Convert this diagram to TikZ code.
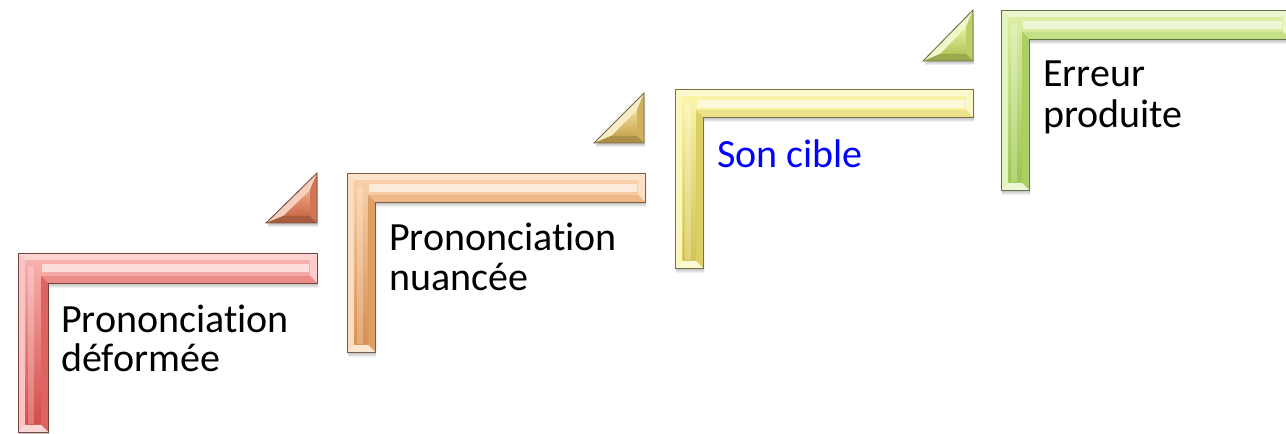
\documentclass[tikz,border=0pt]{standalone}
\usepackage{fontspec}
\setmainfont[RawFeature=-liga]{Carlito}
\definecolor{redL}{HTML}{F9B0AE}\definecolor{redD}{HTML}{D44C48}
\definecolor{oraL}{HTML}{F9CFA8}\definecolor{oraD}{HTML}{D98E4E}
\definecolor{yelL}{HTML}{FAF4A8}\definecolor{yelD}{HTML}{D2C350}
\definecolor{greL}{HTML}{DCEFA6}\definecolor{greD}{HTML}{9CC44E}
\definecolor{t1L}{HTML}{F2A888}\definecolor{t1D}{HTML}{C86A48}
\definecolor{t2L}{HTML}{F2DC98}\definecolor{t2D}{HTML}{C8A850}
\definecolor{t3L}{HTML}{E8F0A0}\definecolor{t3D}{HTML}{B4C658}
\definecolor{sonblue}{HTML}{0000FF}
\tikzset{
  label/.style={anchor=base west,inner sep=0pt,font=\fontsize{30}{30}\selectfont,text=black},
  edge/.style={line width=0.7pt,draw=#1!55!black!70!gray},
}
% #1 x0, #2 y0, #3 x1, #4 xi, #5 yi, #6 y2, #7 light, #8 dark
\newcommand{\LShape}[8]{%
  \foreach \s in {2,3,4,5}{%
    \fill[black,opacity=0.06] ({#1+1},{#2+\s}) -- ({#3+1},{#2+\s}) -- ({#3+1},{#5+\s}) -- ({#4+1},{#5+\s}) -- ({#4+1},{#6+\s}) -- ({#1+1},{#6+\s}) -- cycle;}
  \coordinate (A) at (#1,#2); \coordinate (B) at (#3,#2); \coordinate (C) at (#3,#5);
  \coordinate (D) at (#4,#5); \coordinate (E) at (#4,#6); \coordinate (F) at (#1,#6);
  \coordinate (Ai) at ({#1+7},{#2+7}); \coordinate (Bi) at ({#3-7},{#2+7}); \coordinate (Ci) at ({#3-7},{#5-7});
  \coordinate (Di) at ({#4-7},{#5-7}); \coordinate (Ei) at ({#4-7},{#6-7}); \coordinate (Fi) at ({#1+7},{#6-7});
  \shade[top color=#7, bottom color=#8] (Ai)--(Bi)--(Ci)--(Di)--(Ei)--(Fi)--cycle;
  \fill[white,opacity=0.6] ({#4-6},{#2+11}) rectangle ({#3-8},{#2+19});
  \fill[white,opacity=0.25] ({#1+10},{#2+14}) rectangle ({#1+16},{#6-8});
  \fill[#7!55!white] (A)--(B)--(Bi)--(Ai)--cycle;
  \fill[#7!75!white] (F)--(A)--(Ai)--(Fi)--cycle;
  \fill[#7!65!white] (B)--(C)--(Ci)--(Bi)--cycle;
  \fill[#7!65!#8] (C)--(D)--(Di)--(Ci)--cycle;
  \fill[#8!75!#7] (D)--(E)--(Ei)--(Di)--cycle;
  \fill[#7!50!white] (E)--(F)--(Fi)--(Ei)--cycle;
  \draw[edge=#8] (A)--(B)--(C)--(D)--(E)--(F)--cycle;
}
% #1 L, #2 T, #3 R, #4 B, #5 light, #6 dark
\newcommand{\TriShape}[6]{%
  \foreach \s in {2,3,4}{%
    \fill[black,opacity=0.07] ({#1+1},{#4+\s}) -- ({#3+1},{#4+\s}) -- ({#3+1},{#2+\s}) -- cycle;}
  \coordinate (P) at (#1,#4); \coordinate (Q) at (#3,#4); \coordinate (R) at (#3,#2);
  \coordinate (Pi) at ({#1+17},{#4-7}); \coordinate (Qi) at ({#3-7},{#4-7}); \coordinate (Ri) at ({#3-7},{#2+17});
  \shade[top color=#5, bottom color=#6] (Pi)--(Qi)--(Ri)--cycle;
  \fill[#5!55!white] (P)--(R)--(Ri)--(Pi)--cycle;
  \fill[#6!80!#5] (Q)--(R)--(Ri)--(Qi)--cycle;
  \fill[#6!85!black] (P)--(Q)--(Qi)--(Pi)--cycle;
  \draw[edge=#6] (P)--(Q)--(R)--cycle;
}
\begin{document}
\begin{tikzpicture}[x=0.75pt,y=-0.75pt]
  \useasboundingbox (0,0) rectangle (1286,434);
  % steps
  \LShape{18}{253}{317}{48}{283}{432}{redL}{redD}
  \LShape{347}{173}{645}{375}{202}{352}{oraL}{oraD}
  \LShape{675}{89}{973}{703}{117}{268}{yelL}{yelD}
  \LShape{1001}{10}{1290}{1029}{39}{190}{greL}{greD}
  % triangles
  \TriShape{266}{173}{317}{223}{t1L}{t1D}
  \TriShape{594}{93}{644}{143}{t2L}{t2D}
  \TriShape{923}{10}{973}{61}{t3L}{t3D}
  % texts
  \node[label] (t1a) at (61,333) {Prononciation};
  \node[label] (t1b) at (61,372) {déformée};
  \node[label] (t2a) at (389,251) {Prononciation};
  \node[label] (t2b) at (389,291) {nuancée};
  \node[label,text=sonblue] (t3a) at (717,168) {Son cible};
  \node[label] (t4a) at (1043,87) {Erreur};
  \node[label] (t4b) at (1043,128) {produite};
\end{tikzpicture}
\end{document}
